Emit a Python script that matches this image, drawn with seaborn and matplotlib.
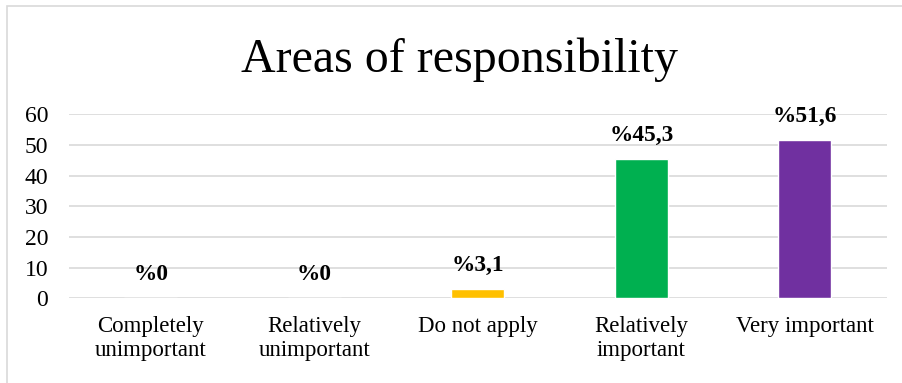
import matplotlib
matplotlib.use("Agg")
import matplotlib.pyplot as plt
import seaborn as sns
import pandas as pd
from matplotlib.patches import Rectangle

categories = ["Completely\nunimportant", "Relatively\nunimportant", "Do not apply",
              "Relatively\nimportant", "Very important"]
values = [0, 0, 3.1, 45.3, 51.6]
labels = ["%0", "%0", "%3,1", "%45,3", "%51,6"]
colors = ["#4472C4", "#ED7D31", "#FFC000", "#00B050", "#7030A0"]
yticks = [0, 10, 20, 30, 40, 50, 60]

sns.set_style("white")
plt.rcParams["font.family"] = ["Liberation Serif", "DejaVu Serif"]
plt.rcParams["text.color"] = "black"
plt.rcParams["xtick.color"] = "black"
plt.rcParams["ytick.color"] = "black"

df = pd.DataFrame({"cat": categories, "val": values})

fig = plt.figure(figsize=(9.02, 3.83), dpi=100)
ax = fig.add_axes([69 / 902, 84.7 / 383, (886.5 - 69) / 902, 184 / 383])

sns.barplot(data=df, x="cat", y="val", hue="cat", palette=colors, legend=False,
            width=0.325, ax=ax, saturation=1)

ax.set_ylim(0, 60)
ax.set_xlim(-0.5, 4.5)
ax.set_yticks(yticks)
ax.set_yticklabels([str(t) for t in yticks], fontsize=17, color="black")
ax.yaxis.grid(True, color="#D9D9D9", linewidth=1.2)
ax.set_axisbelow(True)
for s in ax.spines.values():
    s.set_visible(False)
ax.tick_params(axis="both", length=0)
ax.tick_params(axis="y", pad=15)
ax.tick_params(axis="x", pad=13)
ax.set_xlabel("")
ax.set_ylabel("")
for t in ax.get_xticklabels():
    t.set_fontsize(16.5)
    t.set_linespacing(1.15)
    t.set_color("black")

for i, (v, lab) in enumerate(zip(values, labels)):
    ax.annotate(lab, xy=(i, v), xytext=(0, 17), textcoords="offset points",
                ha="center", va="center", fontsize=16.8, fontweight="bold", color="black")

fig.text(459 / 902, 1 - 60 / 383, "Areas of responsibility", ha="center", va="center",
         fontsize=34.5, color="black")

fig.patches.append(Rectangle((7 / 902, -0.05), 1.1, 1 - 6 / 383 + 0.05, transform=fig.transFigure,
                             fill=False, edgecolor="#D9D9D9", linewidth=1.2))

fig.savefig("out.png", dpi=100)
